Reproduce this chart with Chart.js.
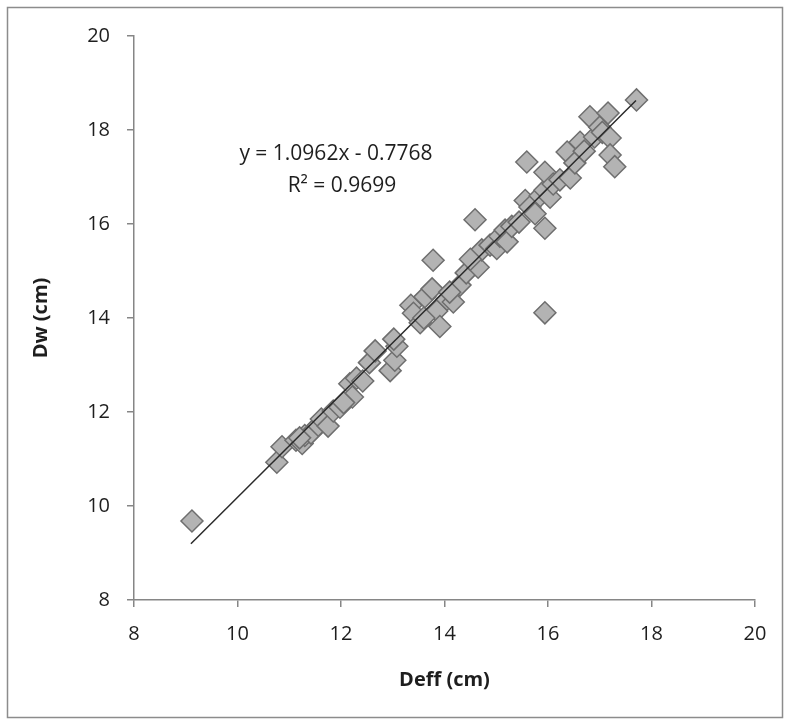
<!DOCTYPE html>
<html>
<head>
<meta charset="utf-8">
<script src="https://cdn.jsdelivr.net/npm/chart.js@4"></script>
<style>
  html, body { margin: 0; padding: 0; background: #fff; }
  #wrap { width: 789px; height: 724px; }
</style>
</head>
<body>
<div id="wrap"><canvas id="scatterChart" width="789" height="724"></canvas></div>
<script>
const deffValues = [
  9.12, 10.76, 10.86, 11.13, 11.25, 11.30, 11.42, 11.56, 11.62, 11.75,
  11.85, 11.98, 12.17, 12.22, 12.30, 12.42, 12.55, 12.66, 12.95, 13.04,
  13.08, 13.02, 13.35, 13.40, 13.53, 13.62, 13.76, 13.85, 13.91, 13.78,
  14.05, 14.17, 14.30, 14.42, 14.59, 14.65, 14.72, 14.88, 15.01, 15.07,
  15.17, 15.21, 15.30, 15.44, 15.56, 15.59, 15.65, 15.75, 15.85, 15.94,
  15.94, 15.94, 15.94, 16.04, 16.10, 16.23, 16.37, 16.43, 16.52, 16.62,
  16.70, 16.81, 16.90, 17.00, 17.05, 17.16, 17.20, 17.20, 17.29, 17.71,
  14.10, 14.50, 11.20, 12.05, 13.60
];
const dwValues = [
  9.68, 10.93, 11.26, 11.40, 11.33, 11.50, 11.55, 11.72, 11.85, 11.70,
  12.02, 12.10, 12.60, 12.32, 12.72, 12.66, 13.05, 13.30, 12.88, 13.10,
  13.40, 13.55, 14.27, 14.10, 13.90, 14.45, 14.62, 14.15, 13.82, 15.23,
  14.40, 14.34, 14.70, 14.96, 16.09, 15.08, 15.45, 15.55, 15.48, 15.74,
  15.87, 15.62, 15.95, 16.04, 16.50, 17.32, 16.36, 16.22, 16.60, 16.72,
  15.91, 14.11, 17.10, 16.57, 16.85, 16.94, 17.53, 16.98, 17.30, 17.74,
  17.55, 18.28, 17.85, 18.06, 17.95, 18.36, 17.83, 17.47, 17.22, 18.64,
  14.55, 15.25, 11.45, 12.20, 14.00
];

// linear trendline as labelled on the chart
const slope = 1.0962;
const intercept = -0.7768;
const trendRange = [9.1, 17.7];
const equationLines = ["y = 1.0962x - 0.7768", "R\u00B2 = 0.9699"];

const axisTicks = [8, 10, 12, 14, 16, 18, 20];

const fontFamily = "'Open Sans', 'Noto Sans', sans-serif";
const axisGray = "#868686";

const points = deffValues.map((x, i) => ({ x: x, y: dwValues[i] }));
const trendPoints = trendRange.map((x) => ({ x: x, y: slope * x + intercept }));

// white background, outer frame and the trendline equation
const framePlugin = {
  id: "frame",
  beforeDraw(chart) {
    const ctx = chart.ctx;
    ctx.save();
    ctx.fillStyle = "#fff";
    ctx.fillRect(0, 0, chart.width, chart.height);
    ctx.strokeStyle = "#8c8c8c";
    ctx.lineWidth = 1.5;
    ctx.strokeRect(7.5, 7.5, 775, 710);
    ctx.restore();
  },
  afterDraw(chart) {
    const ctx = chart.ctx;
    ctx.save();
    ctx.fillStyle = "#1e1e1e";
    ctx.font = "21px " + fontFamily;
    ctx.textAlign = "center";
    ctx.textBaseline = "middle";
    ctx.fillText(equationLines[0], 336, 154);
    ctx.fillText(equationLines[1], 342, 186);
    ctx.restore();
  },
};

const ctx = document.getElementById("scatterChart").getContext("2d");
new Chart(ctx, {
  type: "scatter",
  data: {
    datasets: [
      {
        type: "line",
        label: "Trend",
        data: trendPoints,
        borderColor: "#2a2a2a",
        borderWidth: 1.5,
        pointRadius: 0,
        fill: false,
        order: 0,
      },
      {
        label: "Dw",
        data: points,
        pointStyle: "rectRot",
        pointRadius: 11,
        pointBackgroundColor: "#b3b3b3",
        pointBorderColor: "#6e6e6e",
        pointBorderWidth: 1.5,
        order: 1,
      },
    ],
  },
  options: {
    responsive: false,
    animation: false,
    layout: {
      padding: { left: 0, top: 36, right: 34, bottom: 0 },
    },
    plugins: {
      legend: { display: false },
      tooltip: { enabled: false },
    },
    scales: {
      x: {
        type: "linear",
        min: 8,
        max: 20,
        afterBuildTicks: (scale) => {
          scale.ticks = axisTicks.map((v) => ({ value: v }));
        },
        afterFit: (scale) => {
          scale.height = 124;
        },
        grid: {
          drawOnChartArea: false,
          drawTicks: true,
          tickLength: 7,
          color: axisGray,
          lineWidth: 1.5,
        },
        border: { color: axisGray, width: 1.5 },
        ticks: {
          color: "#1e1e1e",
          padding: 15,
          font: { family: fontFamily, size: 20 },
        },
        title: {
          display: true,
          text: "Deff (cm)",
          color: "#1e1e1e",
          font: { family: fontFamily, size: 20, weight: "bold" },
          padding: { top: 0, bottom: 32 },
        },
      },
      y: {
        type: "linear",
        min: 8,
        max: 20,
        afterBuildTicks: (scale) => {
          scale.ticks = axisTicks.map((v) => ({ value: v }));
        },
        afterFit: (scale) => {
          scale.width = 134;
        },
        grid: {
          drawOnChartArea: false,
          drawTicks: true,
          tickLength: 7,
          color: axisGray,
          lineWidth: 1.5,
        },
        border: { color: axisGray, width: 1.5 },
        ticks: {
          color: "#1e1e1e",
          padding: 17,
          font: { family: fontFamily, size: 20 },
        },
        title: {
          display: true,
          text: "Dw (cm)",
          color: "#1e1e1e",
          font: { family: fontFamily, size: 20, weight: "bold" },
          padding: { top: 29, bottom: 0 },
        },
      },
    },
  },
  plugins: [framePlugin],
});
</script>
</body>
</html>
